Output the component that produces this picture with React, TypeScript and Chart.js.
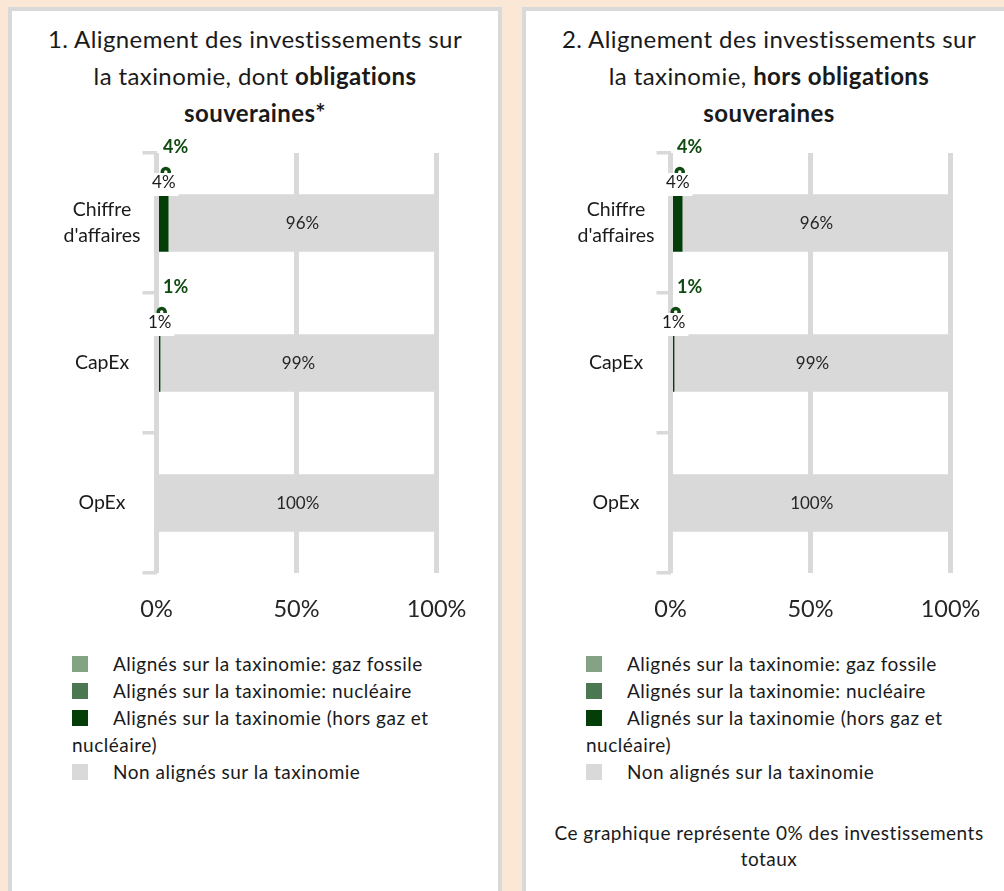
import React, { useEffect, useRef } from 'react';
import { Chart, registerables } from 'chart.js';

Chart.register(...registerables);

const FONT = 'Lato, "Open Sans", sans-serif';
const PEACH = '#fbe7d5';
const FRAME = '#d9d9d9';
const LABEL_GREEN = '#0f4a10';

// ---- data ----
const categories: (string | string[])[] = [['Chiffre', "d'affaires"], 'CapEx', 'OpEx'];
const seriesNames = [
  'Alignés sur la taxinomie: gaz fossile',
  'Alignés sur la taxinomie: nucléaire',
  'Alignés sur la taxinomie (hors gaz et nucléaire)',
  'Non alignés sur la taxinomie',
];
const seriesColors = ['#84a384', '#4b7752', '#033d08', '#d9d9d9'];
const xTickValues = [0, 50, 100];

// chart 1 : dont obligations souveraines
const gas1 = [0, 0, 0];
const nuclear1 = [0, 0, 0];
const aligned1 = [4.3, 1.4, 0];
const notAligned1 = [95.7, 98.6, 100];

// chart 2 : hors obligations souveraines
const gas2 = [0, 0, 0];
const nuclear2 = [0, 0, 0];
const aligned2 = [4.3, 1.4, 0];
const notAligned2 = [95.7, 98.6, 100];

const footnote = ['Ce graphique représente 0% des investissements', 'totaux'];

const pct = (v: number) => `${Math.round(v)}%`;

const labelPlugin = {
  id: 'taxoLabels',
  afterDatasetsDraw(chart: any) {
    const { ctx } = chart;
    const ds = chart.data.datasets;
    const zeroX = chart.scales.x.getPixelForValue(0);
    ctx.save();
    ctx.textBaseline = 'middle';
    // labels inside the non-aligned segments
    chart.getDatasetMeta(3).data.forEach((bar: any, i: number) => {
      const v = ds[3].data[i];
      if (!v) return;
      const p = bar.getProps(['x', 'base', 'y'], true);
      ctx.font = `17px ${FONT}`;
      ctx.fillStyle = '#262626';
      ctx.textAlign = 'center';
      ctx.fillText(pct(v), (p.x + p.base) / 2, p.y + 1);
    });
    // labels of the aligned segments (Excel-like overlapping labels)
    chart.getDatasetMeta(2).data.forEach((bar: any, i: number) => {
      const v = ds[2].data[i];
      if (!v) return;
      const p = bar.getProps(['x', 'base', 'y'], true);
      const cx = (p.x + p.base) / 2;
      ctx.font = `bold 18px ${FONT}`;
      ctx.fillStyle = LABEL_GREEN;
      ctx.textAlign = 'left';
      ctx.fillText(pct(v), zeroX + 6.5, p.y - 75.5);
      // partially hidden label of the zero-valued series
      ctx.strokeStyle = LABEL_GREEN;
      ctx.lineWidth = 3.5;
      ctx.beginPath();
      ctx.arc(cx + 2, p.y - 51, 3.5, 0, Math.PI * 2);
      ctx.stroke();
      ctx.font = `17px ${FONT}`;
      const w = ctx.measureText(pct(v)).width;
      ctx.fillStyle = '#ffffff';
      ctx.fillRect(cx - w / 2 - 3, p.y - 50, w + 6, 23);
      ctx.fillStyle = '#1a1a1a';
      ctx.textAlign = 'center';
      ctx.fillText(pct(v), cx, p.y - 40.5);
    });
    ctx.restore();
  },
};

function TaxoChart({ series }: { series: number[][] }) {
  const ref = useRef<HTMLCanvasElement>(null);
  useEffect(() => {
    const chart = new Chart(ref.current as HTMLCanvasElement, {
      type: 'bar',
      data: {
        labels: categories,
        datasets: series.map((values, k) => ({
          label: seriesNames[k],
          data: values,
          backgroundColor: seriesColors[k],
          borderWidth: 0,
          barPercentage: 0.41,
          categoryPercentage: 1,
        })),
      },
      options: {
        indexAxis: 'y',
        animation: false,
        responsive: false,
        devicePixelRatio: 1,
        layout: { padding: { top: 28, right: 61.5, left: 0, bottom: 0 } },
        plugins: {
          legend: { display: false },
          title: { display: false },
          tooltip: { enabled: false },
        },
        scales: {
          x: {
            stacked: true,
            min: 0,
            max: 100,
            afterBuildTicks: (s: any) => {
              s.ticks = xTickValues.map((v) => ({ value: v }));
            },
            afterFit: (s: any) => {
              s.height = 72;
            },
            ticks: {
              callback: (v: any) => `${v}%`,
              font: { family: FONT, size: 23.5 },
              color: '#262626',
              padding: 22,
              maxRotation: 0,
            },
            grid: { color: FRAME, lineWidth: 5, drawTicks: false },
            border: { display: false },
          },
          y: {
            stacked: true,
            afterFit: (s: any) => {
              s.width = 144.5;
            },
            ticks: {
              font: { family: FONT, size: 19.5, lineHeight: 1.333 },
              color: '#1a1a1a',
              crossAlign: 'center',
              padding: 2,
            },
            grid: {
              color: FRAME,
              lineWidth: 3.5,
              drawOnChartArea: false,
              drawTicks: true,
              tickLength: 14,
              offset: true,
            },
            border: { display: false },
          },
        },
      },
      plugins: [labelPlugin],
    } as any);
    return () => chart.destroy();
  }, []);
  return (
    <canvas
      ref={ref}
      width={486}
      height={520}
      style={{ position: 'absolute', left: 0, top: 114, width: 486, height: 520 }}
    />
  );
}

function Legend() {
  return (
    <div
      style={{
        position: 'absolute',
        left: 60,
        top: 638.6,
        width: 380,
        fontSize: 19,
        letterSpacing: '0.5px',
        lineHeight: '27px',
        color: '#1a1a1a',
      }}
    >
      {seriesNames.map((name, k) => (
        <div key={k}>
          <span
            style={{
              display: 'inline-block',
              width: 16,
              height: 16,
              background: seriesColors[k],
              marginRight: 25,
              verticalAlign: -1,
            }}
          />
          {name}
        </div>
      ))}
    </div>
  );
}

function Panel({
  left,
  title,
  series,
  note,
}: {
  left: number;
  title: React.ReactNode;
  series: number[][];
  note?: string[];
}) {
  return (
    <div
      style={{
        position: 'absolute',
        left,
        top: 7,
        width: 494,
        height: 1000,
        boxSizing: 'border-box',
        border: `4px solid ${FRAME}`,
        background: '#ffffff',
      }}
    >
      <div
        style={{
          position: 'absolute',
          left: 0,
          top: 8.6,
          width: 486,
          textAlign: 'center',
          fontSize: 24,
          letterSpacing: '0.4px',
          lineHeight: '37px',
          color: '#1a1a1a',
        }}
      >
        {title}
      </div>
      <TaxoChart series={series} />
      <Legend />
      {note && (
        <div
          style={{
            position: 'absolute',
            left: 0,
            top: 808.6,
            width: 486,
            textAlign: 'center',
            fontSize: 19,
            letterSpacing: '0.5px',
            lineHeight: '26px',
            color: '#1a1a1a',
          }}
        >
          {note.map((l, i) => (
            <div key={i}>{l}</div>
          ))}
        </div>
      )}
    </div>
  );
}

export default function App() {
  return (
    <div
      style={{
        position: 'fixed',
        inset: 0,
        background: PEACH,
        overflow: 'hidden',
        fontFamily: FONT,
      }}
    >
      <Panel
        left={8}
        series={[gas1, nuclear1, aligned1, notAligned1]}
        title={
          <>
            1. Alignement des investissements sur
            <br />
            la taxinomie, dont <b>obligations</b>
            <br />
            <b>souveraines*</b>
          </>
        }
      />
      <Panel
        left={522}
        series={[gas2, nuclear2, aligned2, notAligned2]}
        note={footnote}
        title={
          <>
            2. Alignement des investissements sur
            <br />
            la taxinomie, <b>hors obligations</b>
            <br />
            <b>souveraines</b>
          </>
        }
      />
    </div>
  );
}
